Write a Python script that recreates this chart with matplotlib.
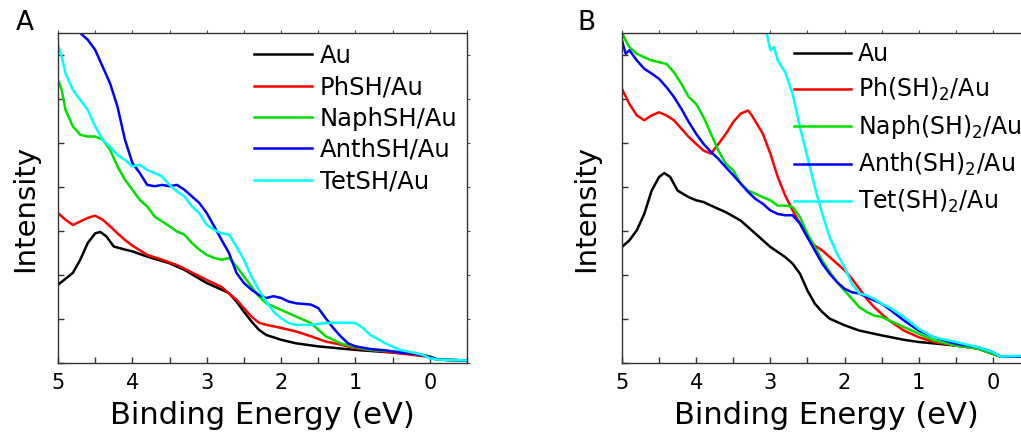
import matplotlib
matplotlib.use("Agg")
import matplotlib.pyplot as plt
from matplotlib.ticker import MultipleLocator, NullFormatter

plt.rcParams['font.family'] = ['DejaVu Sans']
plt.rcParams['mathtext.default'] = 'regular'

# ---- Panel A data (binding energy in eV, intensity in arb. units) ----
a_au_x = [5.0, 4.8, 4.7, 4.6, 4.5, 4.43, 4.35, 4.25, 4.1, 4.0, 3.8, 3.5, 3.3, 3.0, 2.8, 2.7,
          2.6, 2.5, 2.4, 2.3, 2.2, 2.0, 1.8, 1.5, 1.0, 0.5, 0.2, 0.0, -0.1, -0.5]
a_au_y = [1.78, 2.05, 2.35, 2.73, 2.95, 2.98, 2.88, 2.65, 2.58, 2.54, 2.42, 2.27, 2.12, 1.82, 1.67, 1.59,
          1.40, 1.17, 0.95, 0.76, 0.64, 0.53, 0.45, 0.38, 0.30, 0.24, 0.21, 0.15, 0.08, 0.06]

a_ph_x = [5.0, 4.9, 4.8, 4.7, 4.6, 4.5, 4.4, 4.3, 4.2, 4.1, 4.0, 3.8, 3.6, 3.4, 3.2, 3.0, 2.8,
          2.6, 2.5, 2.4, 2.3, 2.2, 2.0, 1.8, 1.6, 1.4, 1.2, 1.0, 0.5, 0.0, -0.1, -0.5]
a_ph_y = [3.41, 3.26, 3.14, 3.22, 3.30, 3.35, 3.26, 3.11, 2.95, 2.80, 2.67, 2.46, 2.35, 2.23, 2.06, 1.89, 1.73,
          1.44, 1.25, 1.06, 0.92, 0.87, 0.80, 0.72, 0.61, 0.49, 0.42, 0.34, 0.24, 0.14, 0.08, 0.06]

a_naph_x = [5.0, 4.95, 4.9, 4.8, 4.7, 4.6, 4.5, 4.4, 4.3, 4.2, 4.1, 4.0, 3.9, 3.8, 3.7, 3.6, 3.5,
            3.4, 3.3, 3.2, 3.1, 3.0, 2.9, 2.8, 2.7, 2.6, 2.5, 2.4, 2.3, 2.2, 2.0, 1.8, 1.6,
            1.5, 1.4, 1.2, 1.0, 0.8, 0.5, 0.2, 0.0, -0.1, -0.5]
a_naph_y = [6.44, 6.21, 5.76, 5.38, 5.19, 5.15, 5.15, 5.08, 4.85, 4.47, 4.17, 3.94, 3.71, 3.56, 3.33, 3.22, 3.11,
            2.99, 2.92, 2.73, 2.58, 2.46, 2.39, 2.35, 2.39, 2.20, 1.97, 1.74, 1.52, 1.36, 1.21, 1.06, 0.91,
            0.76, 0.61, 0.45, 0.36, 0.30, 0.27, 0.23, 0.15, 0.08, 0.06]

a_anth_x = [4.8, 4.7, 4.6, 4.5, 4.4, 4.3, 4.2, 4.1, 4.0, 3.9, 3.8, 3.7, 3.6, 3.5, 3.4, 3.3, 3.2,
            3.1, 3.0, 2.9, 2.8, 2.7, 2.6, 2.5, 2.4, 2.3, 2.2, 2.1, 2.0, 1.9, 1.8, 1.6, 1.5,
            1.4, 1.3, 1.2, 1.1, 1.0, 0.8, 0.6, 0.4, 0.2, 0.0, -0.1, -0.5]
a_anth_y = [8.0, 7.5, 7.35, 7.12, 6.74, 6.36, 5.83, 5.08, 4.55, 4.32, 4.05, 4.02, 4.05, 4.02, 4.05, 3.94, 3.79,
            3.64, 3.41, 3.11, 2.80, 2.50, 2.05, 1.82, 1.67, 1.55, 1.48, 1.52, 1.48, 1.40, 1.36, 1.33, 1.25,
            1.02, 0.80, 0.61, 0.45, 0.38, 0.32, 0.29, 0.24, 0.21, 0.14, 0.08, 0.06]

a_tet_x = [5.0, 4.95, 4.9, 4.8, 4.7, 4.6, 4.5, 4.4, 4.3, 4.2, 4.1, 4.0, 3.9, 3.8, 3.7, 3.6, 3.5,
           3.4, 3.3, 3.2, 3.1, 3.0, 2.9, 2.8, 2.7, 2.6, 2.5, 2.4, 2.3, 2.2, 2.1, 2.0, 1.9,
           1.8, 1.6, 1.4, 1.2, 1.0, 0.9, 0.8, 0.6, 0.4, 0.2, 0.1, 0.0, -0.1, -0.5]
a_tet_y = [7.23, 6.97, 6.59, 6.21, 5.98, 5.76, 5.38, 5.08, 4.92, 4.73, 4.62, 4.47, 4.51, 4.39, 4.32, 4.24, 4.05,
           3.90, 3.79, 3.56, 3.41, 3.14, 3.03, 2.95, 2.92, 2.65, 2.35, 1.97, 1.67, 1.40, 1.17, 1.02, 0.91,
           0.87, 0.87, 0.91, 0.92, 0.91, 0.80, 0.64, 0.45, 0.30, 0.23, 0.19, 0.11, 0.08, 0.06]

# ---- Panel B data ----
b_au_x = [5.0, 4.9, 4.8, 4.7, 4.6, 4.5, 4.43, 4.35, 4.25, 4.1, 4.0, 3.9, 3.8, 3.6, 3.4, 3.2, 3.0,
          2.8, 2.7, 2.6, 2.5, 2.4, 2.3, 2.2, 2.0, 1.8, 1.5, 1.2, 1.0, 0.5, 0.2, 0.0, -0.1, -0.5]
b_au_y = [2.64, 2.79, 3.02, 3.39, 3.92, 4.23, 4.32, 4.23, 3.92, 3.77, 3.70, 3.66, 3.58, 3.43, 3.24, 2.94, 2.64,
          2.41, 2.26, 2.03, 1.65, 1.35, 1.16, 1.01, 0.86, 0.74, 0.63, 0.53, 0.48, 0.40, 0.33, 0.21, 0.15, 0.15]

b_ph_x = [5.0, 4.9, 4.8, 4.7, 4.6, 4.5, 4.4, 4.3, 4.2, 4.1, 4.0, 3.9, 3.8, 3.7, 3.6, 3.5, 3.4,
          3.3, 3.25, 3.1, 3.0, 2.9, 2.8, 2.7, 2.6, 2.5, 2.4, 2.3, 2.2, 2.1, 2.0, 1.9, 1.8,
          1.7, 1.6, 1.5, 1.4, 1.2, 1.0, 0.8, 0.5, 0.2, 0.0, -0.1, -0.5]
b_ph_y = [6.23, 5.89, 5.63, 5.52, 5.63, 5.70, 5.63, 5.52, 5.33, 5.14, 4.98, 4.83, 4.76, 4.98, 5.21, 5.48, 5.67,
          5.74, 5.63, 5.21, 4.76, 4.23, 3.81, 3.47, 3.17, 2.86, 2.67, 2.56, 2.41, 2.26, 2.11, 1.92, 1.69,
          1.46, 1.27, 1.12, 0.97, 0.74, 0.59, 0.48, 0.40, 0.33, 0.21, 0.15, 0.15]

b_naph_x = [5.0, 4.95, 4.9, 4.8, 4.7, 4.6, 4.5, 4.4, 4.3, 4.2, 4.1, 4.0, 3.9, 3.8, 3.7, 3.6, 3.5,
            3.4, 3.3, 3.2, 3.1, 3.0, 2.9, 2.8, 2.7, 2.6, 2.5, 2.4, 2.3, 2.2, 2.1, 2.0, 1.9,
            1.8, 1.7, 1.6, 1.5, 1.4, 1.2, 1.0, 0.8, 0.5, 0.2, 0.0, -0.1, -0.5]
b_naph_y = [7.52, 7.33, 7.18, 7.03, 6.95, 6.88, 6.84, 6.80, 6.61, 6.35, 6.05, 5.89, 5.59, 5.21, 4.83, 4.53, 4.38,
            4.08, 3.92, 3.85, 3.77, 3.70, 3.58, 3.58, 3.55, 3.32, 2.94, 2.64, 2.33, 2.07, 1.84, 1.65, 1.46,
            1.27, 1.16, 1.08, 1.05, 0.97, 0.82, 0.67, 0.52, 0.40, 0.33, 0.21, 0.15, 0.15]

b_anth_x = [5.0, 4.95, 4.9, 4.8, 4.7, 4.6, 4.5, 4.4, 4.3, 4.2, 4.1, 4.0, 3.9, 3.8, 3.7, 3.6, 3.5,
            3.4, 3.3, 3.2, 3.1, 3.0, 2.9, 2.8, 2.7, 2.6, 2.5, 2.4, 2.3, 2.2, 2.1, 2.0, 1.9,
            1.8, 1.7, 1.5, 1.4, 1.2, 1.0, 0.8, 0.5, 0.2, 0.0, -0.1, -0.5]
b_anth_y = [7.33, 7.03, 7.11, 6.88, 6.69, 6.58, 6.46, 6.27, 6.05, 5.78, 5.48, 5.21, 4.98, 4.80, 4.64, 4.45, 4.27,
            4.08, 3.89, 3.73, 3.62, 3.47, 3.39, 3.36, 3.36, 3.17, 2.86, 2.56, 2.26, 2.03, 1.84, 1.69, 1.61,
            1.58, 1.50, 1.35, 1.23, 0.97, 0.74, 0.59, 0.44, 0.36, 0.25, 0.15, 0.15]

b_tet_x = [3.1, 3.05, 3.0, 2.95, 2.9, 2.8, 2.7, 2.6, 2.5, 2.4, 2.3, 2.2, 2.1, 2.0, 1.9, 1.8, 1.7,
           1.6, 1.5, 1.4, 1.3, 1.2, 1.0, 0.8, 0.5, 0.2, 0.0, -0.1, -0.5]
b_tet_y = [8.0, 7.5, 7.11, 7.18, 6.88, 6.61, 6.12, 5.36, 4.68, 4.00, 3.39, 2.86, 2.48, 2.18, 1.80, 1.58, 1.54,
           1.46, 1.35, 1.27, 1.16, 1.05, 0.78, 0.59, 0.48, 0.36, 0.25, 0.15, 0.17]

colors = ['black', '#ff0000', '#00e000', '#0000ff', '#00ffff']
labels_a = ['Au', 'PhSH/Au', 'NaphSH/Au', 'AnthSH/Au', 'TetSH/Au']
labels_b = ['Au', 'Ph(SH)$_2$/Au', 'Naph(SH)$_2$/Au', 'Anth(SH)$_2$/Au', 'Tet(SH)$_2$/Au']

panel_a = [(a_au_x, a_au_y), (a_ph_x, a_ph_y), (a_naph_x, a_naph_y), (a_anth_x, a_anth_y), (a_tet_x, a_tet_y)]
panel_b = [(b_au_x, b_au_y), (b_ph_x, b_ph_y), (b_naph_x, b_naph_y), (b_anth_x, b_anth_y), (b_tet_x, b_tet_y)]

fig = plt.figure(figsize=(10.21, 4.38), dpi=100)
ax_a = fig.add_axes([0.0568, 0.171, 0.4006, 0.7534])
ax_b = fig.add_axes([0.6092, 0.171, 0.3996, 0.7534])


def style_axes(ax, letter, letter_x, series, labels, legend_anchor, leg_size, leg_space):
    for (x, y), c, lab in zip(series, colors, labels):
        ax.plot(x, y, color=c, lw=1.8, label=lab)
    ax.set_xlim(5, -0.5)
    ax.set_ylim(0, 7.5)
    ax.xaxis.set_major_locator(MultipleLocator(1))
    ax.xaxis.set_minor_locator(MultipleLocator(0.5))
    ax.yaxis.set_major_locator(MultipleLocator(1))
    ax.yaxis.set_major_formatter(NullFormatter())
    ax.tick_params(axis='both', which='both', direction='in', length=4, width=1,
                   color='#333333', labelsize=15, pad=7)
    ax.tick_params(axis='y', which='both', left=True, right=False)
    ax.tick_params(axis='x', which='both', bottom=True, top=False)
    sec_x = ax.secondary_xaxis('top')
    sec_x.xaxis.set_major_locator(MultipleLocator(0.5))
    sec_x.xaxis.set_major_formatter(NullFormatter())
    sec_x.tick_params(direction='out', length=2, color='#555555')
    sec_y = ax.secondary_yaxis('right')
    sec_y.yaxis.set_major_locator(MultipleLocator(1))
    sec_y.yaxis.set_major_formatter(NullFormatter())
    sec_y.tick_params(direction='out', length=2, color='#555555')
    for s in ax.spines.values():
        s.set_color('#333333')
        s.set_linewidth(1)
    for s in list(sec_x.spines.values()) + list(sec_y.spines.values()):
        s.set_visible(False)
    ax.set_xlabel('Binding Energy (eV)', fontsize=22)
    ax.set_ylabel('Intensity', fontsize=21)
    ax.xaxis.set_label_coords(0.5, -0.158)
    ax.xaxis.label.set_va('center')
    ax.yaxis.set_label_coords(letter_x, 0.47)
    ax.yaxis.label.set_va('center')
    ax.text(letter_x, 1.03, letter, transform=ax.transAxes, fontsize=19, ha='center', va='center')
    ax.legend(loc='upper left', bbox_to_anchor=legend_anchor, frameon=False, fontsize=leg_size,
              handlelength=2.4, handletextpad=0.32, labelspacing=leg_space, borderaxespad=0,
              borderpad=0)


style_axes(ax_a, 'A', -0.08, panel_a, labels_a, (0.479, 0.967), 17.5, 0.3)
style_axes(ax_b, 'B', -0.088, panel_b, labels_b, (0.4216, 0.973), 17, 0.42)

fig.savefig('out.png', dpi=100)
